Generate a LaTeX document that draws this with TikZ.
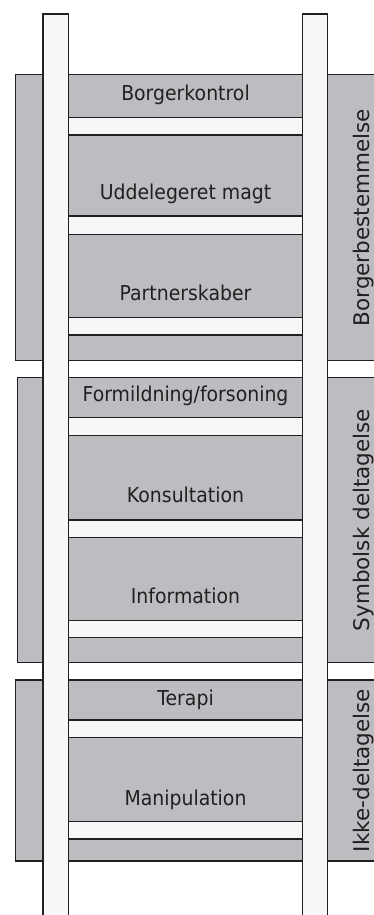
\documentclass[tikz,border=0pt]{standalone}
\usepackage{fontspec}
\setmainfont{DejaVu Sans}
\newfontfamily\rungfont[FakeStretch=0.92]{DejaVu Sans}
\definecolor{ladder}{HTML}{BCBDC1}
\definecolor{railgray}{HTML}{F7F7F7}
\definecolor{ink}{HTML}{231F20}

\begin{document}
\begin{tikzpicture}[x=1pt,y=-1pt,
        group/.style={draw=ink,fill=ladder,line width=1.5pt},
        rail/.style={draw=ink,fill=railgray,line width=1.5pt},
        rung/.style={draw=ink,fill=railgray,line width=1.5pt},
        level/.style={anchor=base,text=ink,font=\rungfont\fontsize{20.5}{24}\selectfont},
        side/.style={anchor=base,rotate=90,text=ink,font=\fontsize{21.5}{26}\selectfont}]
        \useasboundingbox (0,0) rectangle (374,915);
        % the three groups
        \draw[group] (15.7,74.7) rectangle (390,360.7);
        \draw[group] (17.7,377.7) rectangle (390,662.3);
        \draw[group] (15.7,680) rectangle (390,861);
        % rails
        \draw[rail] (43,14) rectangle (68.5,930);
        \draw[rail] (302.5,14) rectangle (327.5,930);
        % rungs
        \draw[rung] (68.5,117.3) rectangle (302.5,135);
        \draw[rung] (68.5,216) rectangle (302.5,234.3);
        \draw[rung] (68.5,317.7) rectangle (302.5,335);
        \draw[rung] (68.5,417.7) rectangle (302.5,435.7);
        \draw[rung] (68.5,520) rectangle (302.5,537.7);
        \draw[rung] (68.5,620.7) rectangle (302.5,637.7);
        \draw[rung] (68.5,720) rectangle (302.5,737.7);
        \draw[rung] (68.5,821.7) rectangle (302.5,839);
        % steps
        \node[level] (kontrol) at (185.5,100.7) {Borgerkontrol};
        \node[level] (magt)    at (185.5,199)   {Uddelegeret magt};
        \node[level] (partner) at (185.5,300.7) {Partnerskaber};
        \node[level] (forson)  at (185.5,401.3) {Formildning/forsoning};
        \node[level] (konsul)  at (185.5,502.3) {Konsultation};
        \node[level] (inform)  at (185.5,603)   {Information};
        \node[level] (terapi)  at (185.5,705)   {Terapi};
        \node[level] (manip)   at (185.5,805.7) {Manipulation};
        % group names
        \node[side] (bestem)   at (369,217.7) {Borgerbestemmelse};
        \node[side] (symbol)   at (369,520)   {Symbolsk deltagelse};
        \node[side] (ikke)     at (369,770.5) {Ikke-deltagelse};
\end{tikzpicture}
\end{document}
